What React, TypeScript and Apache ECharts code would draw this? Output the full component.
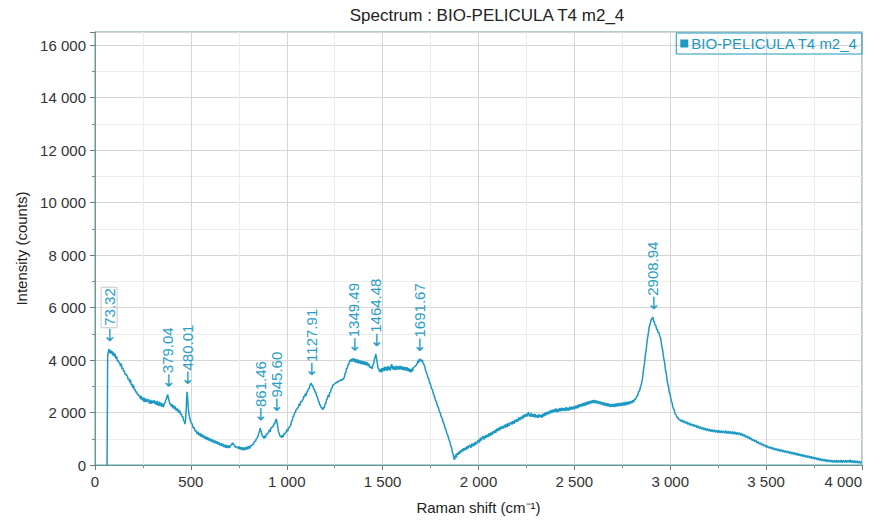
import React, { useEffect, useRef } from 'react';
import * as echarts from 'echarts';

type Pt = [number, number];

const chartTitle = 'Spectrum : BIO-PELICULA T4 m2_4';
const seriesName = 'BIO-PELICULA T4 m2_4';
const xAxisTitle = 'Raman shift (cm⁻¹)';
const yAxisTitle = 'Intensity (counts)';

// Raman shift (cm⁻¹), intensity (counts) — split by spectral band
const onsetBand: Pt[] = [
  [63, 0], [66, 4150], [70, 4330], [73.32, 4420], [77, 4260], [81, 4390], [85, 4240], [89, 4340], [93, 4180], [97, 4290],
  [101, 4130], [105, 4230], [109, 4050], [113, 4140], [117, 3950], [121, 3990], [125, 3900], [129, 3890], [133, 3760], [137, 3860],
  [141, 3660], [145, 3710], [149, 3570], [153, 3600], [157, 3450], [161, 3480], [165, 3400], [169, 3400], [173, 3250], [177, 3290],
  [181, 3150], [185, 3250], [189, 3040], [193, 3090], [197, 2940], [201, 3050], [205, 2860], [209, 2890], [213, 2770], [217, 2800],
  [221, 2680], [225, 2700], [229, 2620], [233, 2650], [237, 2510], [241, 2630], [245, 2470], [249, 2580], [253, 2420], [257, 2560],
  [261, 2400], [265, 2530], [269, 2400], [273, 2460], [277, 2510], [281, 2380], [285, 2360], [289, 2490], [293, 2330], [297, 2460],
  [301, 2360], [305, 2400], [309, 2470], [313, 2320], [317, 2420], [321, 2280], [325, 2440], [329, 2300], [333, 2260], [337, 2410],
  [341, 2250], [345, 2370], [349, 2220], [353, 2340], [357, 2210], [361, 2340], [365, 2360], [369, 2480], [373, 2520], [376, 2620],
  [379.04, 2690], [382, 2570], [386, 2460], [390, 2330], [394, 2340], [398, 2230], [402, 2320], [406, 2170], [410, 2270], [414, 2130],
  [418, 2230], [422, 2080], [426, 2180], [430, 2040], [434, 2130], [438, 1990], [442, 2080], [446, 1930], [450, 1960], [454, 1840],
  [458, 1850], [462, 1700], [466, 1660], [469, 1560], [472, 1700], [475, 2050], [478, 2500], [480.01, 2790], [483, 2550], [486, 2220],
  [490, 1950], [494, 1780], [498, 1670], [502, 1600],
];

const fingerprintBand: Pt[] = [
  [507, 1560], [512, 1410], [517, 1430], [522, 1290], [527, 1320], [532, 1180], [537, 1270], [542, 1130], [547, 1220], [552, 1080],
  [557, 1180], [562, 1050], [567, 1130], [572, 1000], [577, 1090], [582, 960], [587, 1070], [592, 930], [597, 1030], [602, 900],
  [607, 990], [612, 870], [617, 960], [622, 840], [627, 930], [632, 810], [637, 900], [642, 780], [647, 860], [652, 740],
  [657, 830], [662, 720], [667, 810], [672, 680], [677, 770], [682, 660], [687, 760], [692, 650], [697, 740], [702, 650],
  [707, 750], [712, 760], [717, 850], [722, 780], [727, 760], [732, 680], [737, 690], [742, 680], [747, 620], [752, 710],
  [757, 590], [762, 690], [767, 570], [772, 670], [777, 560], [782, 680], [787, 580], [792, 700], [797, 600], [802, 720],
  [807, 630], [812, 740], [817, 740], [822, 780], [827, 800], [832, 900], [837, 910], [842, 1010], [847, 1040], [852, 1160],
  [857, 1250], [861.46, 1400], [865, 1310], [869, 1220], [873, 1080], [877, 1100], [881, 1010], [885, 1120], [889, 1030], [893, 1170],
  [897, 1170], [901, 1210], [905, 1230], [909, 1350], [913, 1260], [917, 1410], [921, 1410], [925, 1460], [929, 1470], [933, 1570],
  [937, 1560], [941, 1680], [945.6, 1760], [949, 1620], [953, 1470], [957, 1270], [961, 1200], [965, 1090], [969, 1110], [973, 1040],
  [977, 1130], [981, 1070], [985, 1190], [989, 1180], [993, 1230], [997, 1250],
];

const amideBand: Pt[] = [
  [1001, 1350], [1005, 1280], [1009, 1420], [1013, 1420], [1017, 1470], [1021, 1530], [1025, 1670], [1029, 1700], [1033, 1840], [1037, 1860],
  [1041, 1980], [1045, 2010], [1049, 2110], [1053, 2130], [1057, 2180], [1061, 2210], [1065, 2340], [1069, 2260], [1073, 2420], [1077, 2410],
  [1081, 2460], [1085, 2500], [1089, 2620], [1093, 2590], [1097, 2730], [1101, 2640], [1105, 2800], [1109, 2800], [1113, 2910], [1117, 2900],
  [1121, 3040], [1124, 3040], [1127.91, 3120], [1132, 3030], [1136, 3010], [1140, 2900], [1144, 2880], [1148, 2770], [1152, 2770], [1156, 2630],
  [1160, 2600], [1164, 2450], [1168, 2420], [1172, 2290], [1176, 2270], [1180, 2170], [1184, 2190], [1188, 2110], [1192, 2190], [1196, 2180],
  [1200, 2330], [1204, 2350], [1208, 2500], [1212, 2530], [1216, 2670], [1220, 2590], [1224, 2760], [1228, 2770], [1232, 2910], [1236, 2920],
  [1240, 3050], [1244, 3050], [1248, 3090], [1252, 3100], [1256, 3130], [1260, 3130], [1264, 3170], [1268, 3160], [1272, 3210], [1276, 3200],
  [1280, 3240], [1284, 3220], [1288, 3260], [1292, 3250], [1296, 3300], [1300, 3330], [1304, 3490], [1308, 3510], [1312, 3680], [1316, 3690],
  [1320, 3830], [1324, 3840], [1328, 3970], [1332, 3960], [1336, 4040], [1340, 3930], [1344, 4030], [1349.49, 4060], [1353, 3920], [1357, 4040],
  [1361, 3900], [1365, 4020], [1369, 3880], [1373, 4010], [1377, 3870], [1381, 3990], [1385, 3850], [1389, 3980], [1393, 3840], [1397, 3960],
  [1401, 3830], [1405, 3950], [1409, 3810], [1413, 3930], [1417, 3800], [1421, 3910], [1425, 3760], [1429, 3850], [1433, 3710], [1437, 3730],
  [1441, 3730], [1445, 3660], [1449, 3800], [1453, 3860], [1457, 4020], [1461, 4120], [1464.48, 4230], [1468, 4060], [1472, 3890], [1476, 3700],
  [1480, 3670], [1484, 3550], [1488, 3650], [1492, 3530], [1496, 3690], [1500, 3570], [1504, 3710], [1508, 3580], [1512, 3750], [1516, 3610],
  [1520, 3730], [1524, 3590], [1528, 3770], [1532, 3630], [1536, 3740], [1540, 3600], [1544, 3790], [1548, 3830], [1552, 3650], [1556, 3770],
  [1560, 3630], [1564, 3750], [1568, 3620], [1572, 3790], [1576, 3650], [1580, 3760], [1584, 3630], [1588, 3780], [1592, 3660], [1596, 3770],
  [1600, 3630], [1604, 3750], [1608, 3620], [1612, 3740], [1616, 3610], [1620, 3730], [1624, 3600], [1628, 3720], [1632, 3580], [1636, 3690],
  [1640, 3550], [1644, 3650], [1648, 3530], [1652, 3670], [1656, 3570], [1660, 3720], [1664, 3730], [1668, 3750], [1672, 3790], [1676, 3810],
  [1680, 3860], [1684, 3980], [1688, 3890], [1691.67, 4050], [1695, 3960], [1699, 4030], [1703, 3940], [1707, 4000], [1711, 3880], [1715, 3840],
];

const dropBand: Pt[] = [
  [1720, 3740], [1725, 3580], [1730, 3510], [1735, 3350], [1740, 3290], [1745, 3140], [1750, 3070], [1755, 2920], [1760, 2860], [1765, 2700],
  [1770, 2630], [1775, 2470], [1780, 2420], [1785, 2260], [1790, 2210], [1795, 2060], [1800, 2000], [1805, 1850], [1810, 1790], [1815, 1640],
  [1820, 1570], [1825, 1420], [1830, 1360], [1835, 1200], [1840, 1130], [1845, 980], [1850, 900], [1855, 740], [1860, 650], [1864, 480],
  [1868, 400], [1872, 240], [1875, 200], [1878, 320], [1881, 400], [1884, 280], [1887, 390], [1890, 460], [1894, 390], [1898, 510],
  [1902, 430], [1906, 560], [1910, 480], [1914, 600], [1918, 510], [1922, 640], [1926, 560],
];

const broadBand: Pt[] = [
  [1930, 660], [1935, 570], [1940, 720], [1945, 630], [1950, 720], [1955, 760], [1960, 650], [1965, 810], [1970, 710], [1975, 840],
  [1980, 740], [1985, 890], [1990, 790], [1995, 900], [2000, 960], [2005, 850], [2010, 1040], [2015, 930], [2020, 1060], [2025, 1090],
  [2030, 970], [2035, 1130], [2040, 1040], [2045, 1150], [2050, 1060], [2055, 1210], [2060, 1100], [2065, 1240], [2070, 1140], [2075, 1280],
  [2080, 1200], [2085, 1330], [2090, 1230], [2095, 1380], [2100, 1290], [2105, 1420], [2110, 1310], [2115, 1470], [2120, 1370], [2125, 1480],
  [2130, 1390], [2135, 1530], [2140, 1430], [2145, 1560], [2150, 1450], [2155, 1600], [2160, 1490], [2165, 1590], [2170, 1640], [2175, 1540],
  [2180, 1680], [2185, 1570], [2190, 1720], [2195, 1630], [2200, 1740], [2205, 1650], [2210, 1810], [2215, 1700], [2220, 1830], [2225, 1740],
  [2230, 1890], [2235, 1780], [2240, 1930], [2245, 1840], [2250, 1950], [2255, 1850], [2260, 2020], [2265, 1890], [2270, 1850], [2275, 1980],
  [2280, 1840], [2285, 1930], [2290, 1820], [2295, 1950], [2300, 1810], [2305, 1900], [2310, 1800], [2315, 1930], [2320, 1820], [2325, 1910],
  [2330, 1800], [2335, 1950], [2340, 1850], [2345, 1990], [2350, 1880], [2355, 2020], [2360, 1920], [2365, 2040], [2370, 1940], [2375, 2090],
  [2380, 1980], [2385, 2110], [2390, 2000], [2395, 2130], [2400, 2030], [2405, 2150], [2410, 2010], [2415, 2140], [2420, 2040], [2425, 2170],
  [2430, 2050], [2435, 2180], [2440, 2070], [2445, 2160], [2450, 2060], [2455, 2200], [2460, 2080], [2465, 2180], [2470, 2070], [2475, 2210],
  [2480, 2100], [2485, 2220], [2490, 2110], [2495, 2230], [2500, 2120], [2505, 2260], [2510, 2150], [2515, 2280], [2520, 2170], [2525, 2320],
  [2530, 2210], [2535, 2330], [2540, 2230], [2545, 2360], [2550, 2250], [2555, 2380], [2560, 2270], [2565, 2410], [2570, 2300], [2575, 2430],
  [2580, 2320], [2585, 2450], [2590, 2350], [2595, 2470], [2600, 2360], [2605, 2480], [2610, 2350], [2615, 2460], [2620, 2340], [2625, 2440],
  [2630, 2320], [2635, 2420], [2640, 2300], [2645, 2400], [2650, 2280], [2655, 2380], [2660, 2260], [2665, 2360], [2670, 2240], [2675, 2350],
  [2680, 2230], [2685, 2330], [2690, 2210], [2695, 2320], [2700, 2220], [2705, 2330], [2710, 2210], [2715, 2340], [2720, 2230], [2725, 2350],
  [2730, 2240], [2735, 2360], [2740, 2250], [2745, 2370], [2750, 2260], [2755, 2380], [2760, 2270], [2765, 2400], [2770, 2280], [2775, 2410],
  [2780, 2300], [2785, 2420], [2790, 2320], [2795, 2440], [2800, 2350], [2805, 2470], [2810, 2400], [2815, 2520], [2820, 2500], [2825, 2620],
  [2830, 2640], [2835, 2780], [2840, 2830], [2845, 2980],
];

const chStretchBand: Pt[] = [
  [2850, 3100], [2855, 3280], [2860, 3590], [2865, 3830], [2870, 4180], [2875, 4430], [2880, 4770], [2885, 4980], [2890, 5250], [2895, 5360],
  [2900, 5530], [2905, 5570], [2908.94, 5640], [2913, 5480], [2917, 5460], [2921, 5310], [2925, 5320], [2929, 5160], [2933, 5180], [2937, 5040],
  [2941, 5050], [2945, 4920], [2950, 4820], [2955, 4570], [2960, 4400], [2965, 4110], [2970, 3930], [2975, 3630], [2980, 3450], [2985, 3160],
  [2990, 3010], [2995, 2770], [3000, 2670], [3005, 2450], [3010, 2360], [3015, 2170], [3020, 2110], [3025, 1950], [3030, 1930], [3035, 1810],
  [3040, 1820], [3045, 1720],
];

const tailBand: Pt[] = [
  [3050, 1740], [3056, 1660], [3062, 1720], [3068, 1620], [3074, 1680], [3080, 1580], [3086, 1650], [3092, 1550], [3098, 1610], [3104, 1510],
  [3110, 1580], [3116, 1480], [3122, 1550], [3128, 1450], [3134, 1520], [3140, 1420], [3146, 1490], [3152, 1390], [3158, 1460], [3164, 1360],
  [3170, 1430], [3176, 1340], [3182, 1410], [3188, 1310], [3194, 1390], [3200, 1290], [3206, 1370], [3212, 1270], [3218, 1350], [3224, 1260],
  [3230, 1340], [3236, 1240], [3242, 1330], [3248, 1230], [3254, 1320], [3260, 1220], [3266, 1310], [3272, 1220], [3278, 1300], [3284, 1210],
  [3290, 1300], [3296, 1200], [3302, 1290], [3308, 1190], [3314, 1280], [3320, 1180], [3326, 1270], [3332, 1170], [3338, 1260], [3344, 1160],
  [3350, 1250], [3356, 1150], [3362, 1230], [3368, 1130], [3374, 1200], [3380, 1100], [3386, 1160], [3392, 1060], [3398, 1120], [3404, 1020],
  [3410, 1080], [3416, 980], [3422, 1030], [3428, 930], [3434, 980], [3440, 890], [3446, 940], [3452, 840], [3458, 890], [3464, 800],
  [3470, 850], [3476, 760], [3482, 810], [3488, 720], [3494, 770], [3500, 680], [3506, 730], [3512, 650], [3518, 700], [3524, 620],
  [3530, 680], [3536, 590], [3542, 650], [3548, 570], [3554, 630], [3560, 540], [3566, 610], [3572, 520], [3578, 590], [3584, 500],
  [3590, 570], [3596, 480], [3602, 550], [3608, 460], [3614, 530], [3620, 440], [3626, 510], [3632, 420], [3638, 490], [3644, 400],
  [3650, 470], [3656, 380], [3662, 450], [3668, 360], [3674, 430], [3680, 340], [3686, 410], [3692, 320], [3698, 390], [3704, 300],
  [3710, 370], [3716, 280], [3722, 350], [3728, 260], [3734, 330], [3740, 240], [3746, 310], [3752, 220], [3758, 290], [3764, 200],
  [3770, 270], [3776, 180], [3782, 250], [3788, 160], [3794, 230], [3800, 150], [3806, 220], [3812, 130], [3818, 210], [3824, 120],
  [3830, 200], [3836, 110], [3842, 190], [3848, 100], [3854, 180], [3860, 100], [3866, 190], [3872, 90], [3878, 180], [3884, 100],
  [3890, 190], [3896, 90], [3902, 180], [3908, 100], [3914, 190], [3920, 90], [3926, 180], [3932, 100], [3938, 200], [3944, 90],
  [3950, 180], [3956, 80], [3962, 170], [3968, 80], [3974, 160], [3980, 70], [3986, 150], [3992, 60], [3998, 140],
];

// Annotated peaks (position in cm⁻¹, intensity at the peak)
const peakShifts = [73.32, 379.04, 480.01, 861.46, 945.6, 1127.91, 1349.49, 1464.48, 1691.67, 2908.94];
const peakCounts = [4420, 2690, 2790, 1400, 1760, 3120, 4060, 4230, 4050, 5640];
const boxedPeaks = [73.32];

const spectrum: Pt[] = [
  ...onsetBand,
  ...fingerprintBand,
  ...amideBand,
  ...dropBand,
  ...broadBand,
  ...chStretchBand,
  ...tailBand,
];

const LINE = '#1c98c4';
const PEAK_TEXT = '#2a9ec6';
const FRAME = '#5f9d9b';
const FONT = '"Liberation Sans", Arial, sans-serif';
const ARROW_FONT = '"DejaVu Sans", sans-serif';

const spaced = (v: number) => String(Math.round(v)).replace(/\B(?=(\d{3})+(?!\d))/g, ' ');

const renderPeak = (_params: any, api: any) => {
  const shift = Number(api.value(0));
  const counts = Number(api.value(1));
  const pt = api.coord([shift, counts]);
  const label = shift.toFixed(2);
  const boxed = boxedPeaks.includes(shift);
  return {
    type: 'text',
    x: pt[0],
    y: pt[1] - 7,
    rotation: Math.PI / 2,
    silent: true,
    style: {
      text: boxed ? `{arrow|←}{box|${label}}` : `{arrow|←}{num|${label}}`,
      fill: PEAK_TEXT,
      fontSize: 15,
      fontFamily: FONT,
      align: 'left',
      verticalAlign: 'middle',
      rich: {
        arrow: { fill: PEAK_TEXT, fontSize: 17, fontFamily: ARROW_FONT },
        num: { fill: PEAK_TEXT, fontSize: 15, fontFamily: FONT },
        box: {
          fill: PEAK_TEXT,
          fontSize: 15,
          fontFamily: FONT,
          borderColor: '#c8c8c8',
          borderWidth: 1,
          padding: [1, 1, 0, 2],
        },
      },
    },
  };
};

export default function App() {
  const ref = useRef<HTMLDivElement>(null);

  useEffect(() => {
    if (!ref.current) return;
    const chart = echarts.init(ref.current, undefined, { renderer: 'svg' });
    const axisCommon = {
      type: 'value' as const,
      nameLocation: 'middle' as const,
      nameTextStyle: { fontSize: 15, color: '#222', fontFamily: FONT },
      axisLine: { show: true, lineStyle: { color: FRAME, width: 1 } },
      axisTick: { show: true, length: 5, lineStyle: { color: '#777' } },
      minorTick: { show: true, splitNumber: 2, length: 3, lineStyle: { color: '#888' } },
      splitLine: { show: true, lineStyle: { color: '#d6d6d6', width: 1 } },
      minorSplitLine: { show: true, lineStyle: { color: '#ececec', width: 1 } },
    };
    chart.setOption({
      animation: false,
      backgroundColor: '#ffffff',
      textStyle: { fontFamily: FONT },
      title: {
        text: chartTitle,
        left: 487,
        top: 7,
        padding: 0,
        textAlign: 'center',
        textStyle: { fontSize: 17, fontWeight: 'normal', color: '#222', fontFamily: FONT },
      },
      legend: {
        data: [seriesName],
        right: 10,
        top: 33,
        icon: 'rect',
        itemWidth: 8,
        itemHeight: 8,
        itemGap: 4,
        padding: [3, 4, 3, 4],
        borderColor: LINE,
        borderWidth: 1,
        textStyle: { color: LINE, fontSize: 15, fontFamily: FONT, padding: [0, 0, 0, -2] },
      },
      grid: {
        left: 95,
        right: 10,
        top: 32,
        bottom: 54.5,
        show: true,
        borderColor: FRAME,
        borderWidth: 1,
        containLabel: false,
      },
      xAxis: {
        ...axisCommon,
        min: 0,
        max: 4000,
        interval: 500,
        name: xAxisTitle,
        nameGap: 35,
        axisLabel: {
          fontSize: 15,
          color: '#333',
          margin: 9,
          fontFamily: FONT,
          formatter: spaced,
          alignMaxLabel: 'right',
        },
      },
      yAxis: {
        ...axisCommon,
        min: 0,
        max: 16500,
        interval: 2000,
        name: yAxisTitle,
        nameGap: 49,
        axisLabel: {
          fontSize: 15,
          color: '#333',
          margin: 9,
          fontFamily: FONT,
          formatter: spaced,
          showMaxLabel: false,
        },
      },
      series: [
        {
          type: 'line',
          name: seriesName,
          data: spectrum,
          symbol: 'none',
          showSymbol: false,
          sampling: undefined,
          lineStyle: { color: LINE, width: 1.5 },
          itemStyle: { color: LINE },
          z: 3,
        },
        {
          type: 'custom',
          name: 'peaks',
          data: peakShifts.map((s, i) => [s, peakCounts[i]]),
          encode: { x: 0, y: 1 },
          renderItem: renderPeak,
          clip: false,
          silent: true,
          z: 4,
        },
      ],
    });
    return () => chart.dispose();
  }, []);

  return (
    <div
      ref={ref}
      style={{ position: 'absolute', left: 0, top: 0, width: 872, height: 520, background: '#fff' }}
    />
  );
}
